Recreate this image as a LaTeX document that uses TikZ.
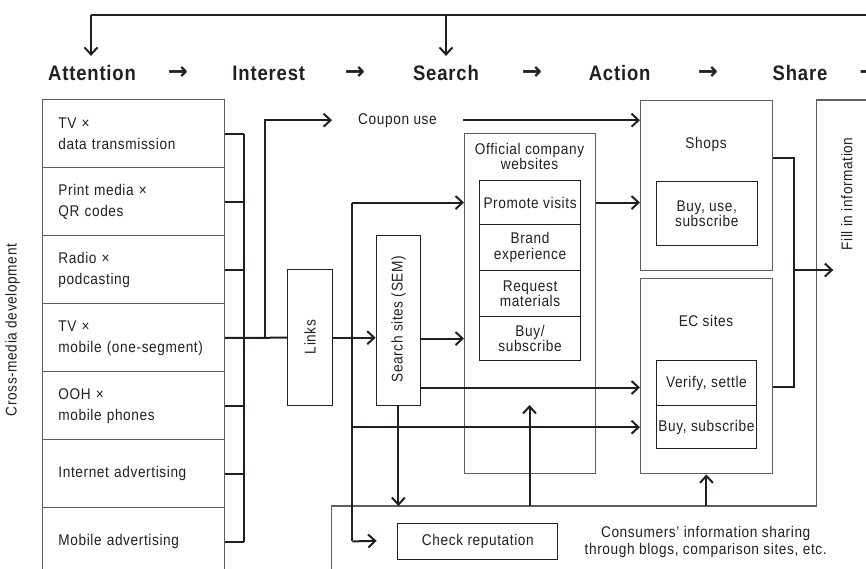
\documentclass[tikz,border=0pt]{standalone}
\usepackage{fontspec}
\setmainfont{Liberation Sans}[FakeStretch=0.88,LetterSpace=4]
\newfontfamily\arrowfont{DejaVu Sans}
\usetikzlibrary{arrows.meta,calc}
\definecolor{ink}{HTML}{231F20}
\definecolor{boxg}{HTML}{5E5E5E}
\begin{document}
\begin{tikzpicture}[x=1pt,y=-1pt,
  font=\fontsize{15.5}{15.5}\selectfont, text=ink,
  obox/.style={draw=boxg,line width=1.1pt,rectangle,inner sep=0pt},
  ibox/.style={draw=ink,line width=1.1pt,rectangle,inner sep=0pt,align=center,anchor=north west},
  attbox/.style={draw=boxg,line width=1.1pt,rectangle,minimum height=68pt,text width=150pt,
     inner xsep=16.15pt,inner ysep=0pt,align=left,anchor=north west,font=\fontsize{15.5}{21}\selectfont},
  conn/.style={draw=ink,line width=2pt},
  arr/.style={conn,-{Straight Barb[length=7pt,width=13pt]}},
  hd/.style={font=\fontsize{21}{21}\selectfont\bfseries,inner ysep=9.5pt,inner xsep=0pt},
  harr/.style={font=\arrowfont\fontsize{24}{24}\selectfont\bfseries,inner sep=0pt},
  region/.style={draw=boxg,line width=1.1pt}]
\useasboundingbox (0,0) rectangle (866,568);

% headings
\node[hd] (hAtt) at (92,73.3) {Attention};
\node[harr] (ha1) at (178,73.3) {→};
\node[hd] (hInt) at (268.8,73.3) {Interest};
\node[harr] (ha2) at (355,73.3) {→};
\node[hd] (hSea) at (446,73.3) {Search};
\node[harr] (ha3) at (532,73.3) {→};
\node[hd] (hAct) at (619.6,73.3) {Action};
\node[harr] (ha4) at (708,73.3) {→};
\node[hd] (hSha) at (800,73.3) {Share};
\node[harr] (ha5) at (869.5,73.3) {→};

% top feedback line
\coordinate (tl1) at (91,14.7);
\coordinate (tl2) at (446,14.7);
\coordinate (tlr) at (890,14.7);
\draw[conn] (tl1) -- (tlr);
\draw[arr] (tl1) -- (tl1 |- hAtt.north);
\draw[arr] (tl2) -- (hSea.north);

% cross-media label
\node[rotate=90] (cmt) at (12.5,330) {Cross-media development};

% attention boxes
\node[attbox] (att1) at (41.7,99.3) {TV ×\\data transmission};
\node[attbox] (att2) at (41.7,167.3) {Print media ×\\QR codes};
\node[attbox] (att3) at (41.7,235.3) {Radio ×\\podcasting};
\node[attbox] (att4) at (41.7,303.3) {TV ×\\mobile (one-segment)};
\node[attbox] (att5) at (41.7,371.3) {OOH ×\\mobile phones};
\node[attbox] (att6) at (41.7,439.3) {Internet advertising};
\node[attbox] (att7) at (41.7,507.3) {Mobile advertising};

% links and search boxes
\node[ibox,minimum width=44.4pt,minimum height=135.7pt] (links) at (287.3,269.3) {};
\node[rotate=90] (linkst) at (310,337) {Links};
\node[ibox,minimum width=44.3pt,minimum height=170pt] (search) at (375.7,235) {};
\node[rotate=90] (searcht) at (398.5,319.3) {Search sites (SEM)};

% coupon
\node[inner xsep=26pt,inner ysep=2pt,anchor=base] (coupon) at (397.5,124) {Coupon use};

% official websites
\node[obox,minimum width=131pt,minimum height=339.4pt,anchor=north west] (off) at (464,133.3) {};
\node[align=center] (offt) at (529.5,156.5) {Official company\\websites};
\node[ibox,minimum width=101pt,minimum height=44pt] (pv) at (479,180) {Promote visits};
\node[ibox,minimum width=101pt,minimum height=46pt] (be) at (479,224) {Brand\\experience};
\node[ibox,minimum width=101pt,minimum height=46pt] (rm) at (479,270) {Request\\materials};
\node[ibox,minimum width=101pt,minimum height=44pt] (bs) at (479,316) {Buy/\\subscribe};

% shops
\node[obox,minimum width=131.7pt,minimum height=170pt,anchor=north west] (shops) at (640,100) {};
\node[anchor=base] (shopst) at (706,148.3) {Shops};
\node[ibox,minimum width=101pt,minimum height=64pt] (bus) at (655.7,181) {Buy, use,\\subscribe};

% EC sites
\node[obox,minimum width=131.7pt,minimum height=195pt,anchor=north west] (ec) at (640,278.3) {};
\node[anchor=base] (ect) at (706,326.7) {EC sites};
\node[ibox,minimum width=100.3pt,minimum height=45pt] (vs) at (655.7,360) {Verify, settle};
\node[ibox,minimum width=100.3pt,minimum height=43.3pt] (bsub) at (655.7,405) {Buy, subscribe};

% fill-in / consumer region
\coordinate (rg0) at (331.7,600);
\coordinate (rg1) at (331.7,506);
\coordinate (rg2) at (816.7,506);
\coordinate (rg3) at (816.7,100);
\coordinate (rg4) at (890,100);
\draw[region] (rg0) -- (rg1) -- (rg2) -- (rg3) -- (rg4);
\node[rotate=90] (fillt) at (846.7,194) {Fill in information};
\node[ibox,minimum width=160pt,minimum height=36.3pt] (chk) at (397.3,522.7) {Check reputation};
\node[align=center,font=\fontsize{15.5}{16.7}\selectfont] (cons) at (705.7,541.7) {Consumers’ information sharing\\through blogs, comparison sites, etc.};

% connectors: bus from attention boxes
\coordinate (bx) at (244,0);
\draw[conn] (att1.east -| bx) -- (att7.east -| bx);
\foreach \i in {1,...,7} {\draw[conn] (att\i.east) -- (att\i.east -| bx);}
\draw[conn] (att4.east) -- (links.west);
\coordinate (j1) at (265,337.3);
\draw[arr] (j1) |- (coupon.west);
\draw[arr] (coupon.east) -- (coupon.east -| shops.west);

\coordinate (v2x) at (352.3,0);
\draw[arr] (pv.west -| v2x) -- (pv.west -| off.west);
\draw[conn] (pv.west -| v2x) -- (chk.west -| v2x);
\coordinate (chkin) at (376.7,540.8);
\draw[arr] (chk.west -| v2x) -- (chkin);
\draw[arr] (links.east) -- (links.east -| search.west);
\draw[arr] (search.east |- bs.west) -- (off.west |- bs.west);
\coordinate (s2) at (420,387.5);
\draw[arr] (search.east |- s2) -- (s2 -| ec.west);
\draw[arr] (bsub.west -| v2x) -- (bsub.west -| ec.west);
\draw[arr] (search.south) -- (search.south |- rg1);
\coordinate (up1) at (529.5,506);
\coordinate (up1t) at (529.5,405);
\draw[arr] (up1) -- (up1t);
\draw[arr] (ec.south |- rg1) -- (ec.south);
\draw[arr] (off.east |- pv.east) -- (shops.west |- pv.east);

\coordinate (r1) at (794.3,157.7);
\coordinate (r2) at (794.3,386.7);
\coordinate (r3) at (794.3,270);
\coordinate (fillpt) at (833.3,270);
\draw[conn] (shops.east |- r1) -- (r1) -- (r2) -- (ec.east |- r2);
\draw[arr] (r3) -- (fillpt);
\end{tikzpicture}
\end{document}
